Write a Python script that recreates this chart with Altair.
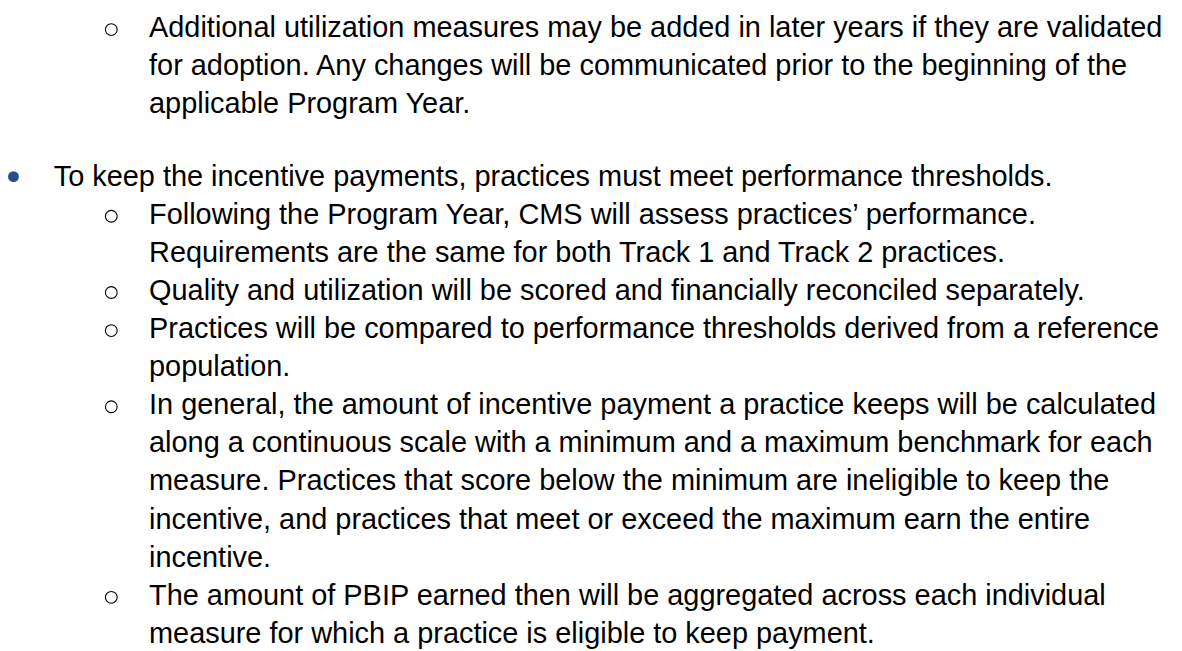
import altair as alt
import pandas as pd

# Document lines (text), their list level, paragraph start flags and line rows
line_texts = [
    "Additional utilization measures may be added in later years if they are validated",
    "for adoption. Any changes will be communicated prior to the beginning of the",
    "applicable Program Year.",
    "To keep the incentive payments, practices must meet performance thresholds.",
    "Following the Program Year, CMS will assess practices\u2019 performance.",
    "Requirements are the same for both Track 1 and Track 2 practices.",
    "Quality and utilization will be scored and financially reconciled separately.",
    "Practices will be compared to performance thresholds derived from a reference",
    "population.",
    "In general, the amount of incentive payment a practice keeps will be calculated",
    "along a continuous scale with a minimum and a maximum benchmark for each",
    "measure. Practices that score below the minimum are ineligible to keep the",
    "incentive, and practices that meet or exceed the maximum earn the entire",
    "incentive.",
    "The amount of PBIP earned then will be aggregated across each individual",
    "measure for which a practice is eligible to keep payment.",
]
line_levels = [2, 2, 2, 1, 2, 2, 2, 2, 2, 2, 2, 2, 2, 2, 2, 2]
line_bullet = [1, 0, 0, 1, 1, 0, 1, 1, 0, 1, 0, 0, 0, 0, 1, 0]
line_rows = [0, 1, 2, 3.9, 4.9, 5.9, 6.9, 7.9, 8.9, 9.9, 10.9, 11.9, 12.9, 13.9, 14.9, 15.9]

df = pd.DataFrame({
    "text": line_texts,
    "level": line_levels,
    "bullet": line_bullet,
    "row": line_rows,
})

FONT = "Liberation Sans"
FS = 29.1
yscale = alt.Scale(domain=[0, 15.9], range=[27, 637])
Y = alt.Y("row:Q", scale=yscale, axis=None)

base = alt.Chart(df)

text1 = base.transform_filter("datum.level == 1").mark_text(
    align="left", baseline="alphabetic", font=FONT, fontSize=FS, color="#000000"
).encode(x=alt.value(46), y=Y, text="text:N")

text2 = base.transform_filter("datum.level == 2").mark_text(
    align="left", baseline="alphabetic", font=FONT, fontSize=FS, color="#000000"
).encode(x=alt.value(142), y=Y, text="text:N")

dot1 = base.transform_filter("datum.level == 1 && datum.bullet == 1").mark_point(
    shape="circle", filled=True, color="#24508f", size=120, yOffset=-9, opacity=1
).encode(x=alt.value(5.5), y=Y)

circ2 = base.transform_filter("datum.level == 2 && datum.bullet == 1").mark_point(
    shape="circle", filled=False, color="#000000", strokeWidth=1.1, size=140,
    yOffset=-7.5, opacity=1
).encode(x=alt.value(104), y=Y)

chart = alt.layer(text1, text2, dot1, circ2).properties(
    width=1174, height=643, padding=0,
    autosize=alt.AutoSizeParams(type="none"),
    background="#ffffff",
).configure_view(stroke=None)

chart.save("out.html", embed_options={"renderer": "svg", "actions": False})
